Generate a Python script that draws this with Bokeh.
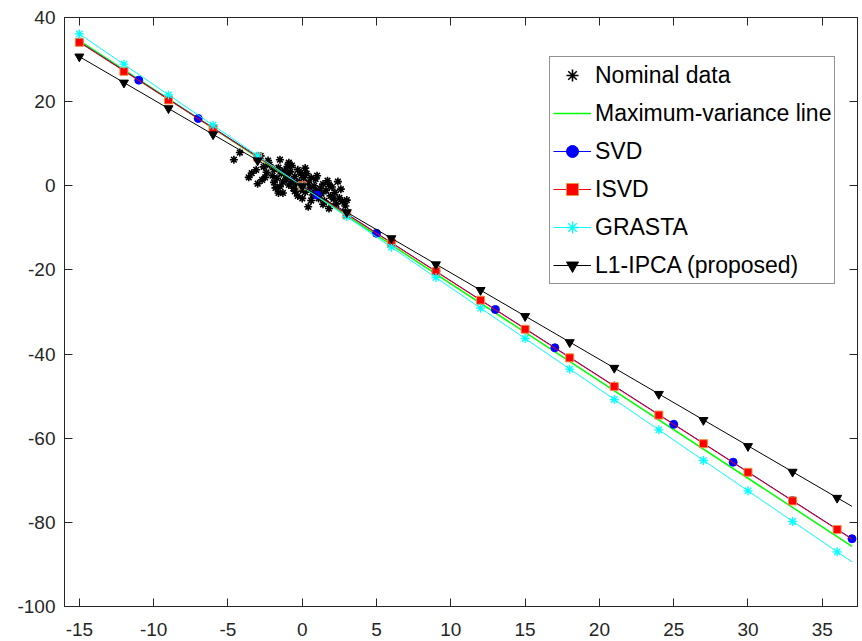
from bokeh.plotting import figure
from bokeh.models import LinearAxis, FixedTicker, Legend, LegendItem, Range1d
from bokeh.embed import file_html
from bokeh.resources import INLINE

# ---------------- data ----------------
x_ticks = [-15, -10, -5, 0, 5, 10, 15, 20, 25, 30, 35]
x_tick_labels = ["-15", "-10", "-5", "0", "5", "10", "15", "20", "25", "30", "35"]
y_ticks = [-100, -80, -60, -40, -20, 0, 20, 40]
y_tick_labels = ["-100", "-80", "-60", "-40", "-20", "0", "20", "40"]

nominal_x = [-4.6, -4.2, -2.8, -1.5, -0.7, -3.1, -3.0, -2.7, -1.3, -0.1, 0.1, 0.9, 1.4, 2.4,
             2.1, 2.3, 1.8, 0.4, -0.3, -1.6, -1.8, 2.9,
             -2.6, -2.4, -2.2, -2.0, -1.9, -1.7, -1.6, -1.4, -1.3, -1.2, -1.1, -1.0, -0.9,
             -0.8, -0.7, -0.6, -0.5, -0.4, -0.3, -0.2, -0.1, 0.0, 0.1, 0.2, 0.3, 0.4, 0.5,
             0.6, 0.7, 0.8, 0.9, 1.0, 1.1, 1.2, 1.3, 1.5, 1.6, 1.7, 1.9, 2.0, 2.2, 2.5, 2.7,
             3.0, -2.5, -2.3, -1.9, -1.5, -1.0, -0.5, 0.2, 0.6, 1.4, -3.4, -3.6, -0.9, 0.0,
             1.8, 2.6]
nominal_y = [6.2, 7.9, 7.1, 6.2, 4.8, 3.8, 0.5, 1.4, -1.7, 3.1, 1.9, 1.6, 0.4, 1.0,
             -3.1, -4.3, -5.4, -5.0, -2.4, -1.7, -0.5, -4.8,
             4.5, 3.2, 5.0, 2.4, 3.9, 1.8, 4.3, 2.9, 0.9, 3.6, 1.5, 2.6, 0.2,
             3.3, 1.1, -0.6, 2.2, 0.5, 3.8, 1.0, -0.9, 2.5, 0.3, -1.5, 2.9, 0.8, -0.4,
             1.9, -2.2, 0.0, -1.2, 2.4, -3.0, -0.6, -1.9, -3.6, -1.1, 1.2, -2.4, -0.3, -1.6,
             -2.9, -3.7, -3.4, 2.0, 6.0, 0.8, -0.2, 4.6, -1.3, 4.2, -3.5, -4.4, 3.0, 2.0,
             5.5, -3.0, 0.3, -0.8]

# Maximum-variance line
maxvar_x = [-15, 37]
maxvar_y = [34.5, -85.7]

# SVD
svd_line_x = [-15, 37]
svd_line_y = [34.2, -83.9]
svd_x = [-15, -11, -7, -3, 1, 5, 9, 13, 17, 21, 25, 29, 33, 37]
svd_y = [34.2, 25.1, 16.0, 6.9, -2.2, -11.3, -20.3, -29.4, -38.5, -47.6, -56.7, -65.7, -74.8, -83.9]

# ISVD
isvd_line_x = [-15, 37]
isvd_line_y = [34.1, -84.0]
isvd_x = [-15, -12, -9, -6, -3, 0, 3, 6, 9, 12, 15, 18, 21, 24, 27, 30, 33, 36]
isvd_y = [34.1, 27.2, 20.4, 13.6, 6.8, 0.0, -6.8, -13.6, -20.4, -27.2, -34.1, -40.9, -47.7,
          -54.5, -61.3, -68.1, -74.9, -81.7]

# GRASTA
grasta_line_x = [-15, 37]
grasta_line_y = [36.1, -89.4]
grasta_x = [-15, -12, -9, -6, -3, 0, 3, 6, 9, 12, 15, 18, 21, 24, 27, 30, 33, 36]
grasta_y = [36.1, 28.9, 21.6, 14.4, 7.1, -0.1, -7.3, -14.6, -21.8, -29.1, -36.3, -43.6, -50.8,
            -58.0, -65.3, -72.5, -79.8, -87.0]

# L1-IPCA (proposed)
l1_line_x = [-15, 37]
l1_line_y = [30.7, -76.2]
l1_x = [-15, -12, -9, -6, -3, 0, 3, 6, 9, 12, 15, 18, 21, 24, 27, 30, 33, 36]
l1_y = [30.7, 24.5, 18.4, 12.2, 6.0, -0.15, -6.3, -12.5, -18.7, -24.8, -31.0, -37.2, -43.3,
        -49.5, -55.7, -61.9, -68.0, -74.2]

# ---------------- figure ----------------
FONT = "Liberation Sans"
AX = "#262626"

p = figure(width=862, height=641, x_range=Range1d(-16, 37.37), y_range=Range1d(-100, 40),
           output_backend="svg", toolbar_location=None,
           min_border_left=64, min_border_right=5, min_border_top=17, min_border_bottom=35)
p.background_fill_color = "white"
p.border_fill_color = "white"
p.outline_line_color = AX
p.outline_line_width = 1
p.xgrid.visible = False
p.ygrid.visible = False

def style_axis(ax, ticks, labels, show_labels, standoff):
    ax.ticker = FixedTicker(ticks=ticks)
    ax.major_tick_in = 8
    ax.major_tick_out = 0
    ax.minor_tick_line_color = None
    ax.axis_line_color = AX
    ax.major_tick_line_color = AX
    ax.major_label_text_font = FONT
    ax.major_label_standoff = standoff
    if show_labels:
        ax.major_label_overrides = {t: l for t, l in zip(ticks, labels)}
        ax.major_label_text_color = AX
        ax.major_label_text_font_size = "19px"
    else:
        ax.major_label_text_color = None
        ax.major_label_text_font_size = "1px"
        ax.major_label_standoff = 0

style_axis(p.xaxis[0], x_ticks, x_tick_labels, True, 16)
style_axis(p.yaxis[0], y_ticks, y_tick_labels, True, 9)

top_ax = LinearAxis()
style_axis(top_ax, x_ticks, x_tick_labels, False, 0)
p.add_layout(top_ax, "above")
right_ax = LinearAxis()
style_axis(right_ax, y_ticks, y_tick_labels, False, 0)
p.add_layout(right_ax, "right")

# nominal data
r_nom = p.scatter(nominal_x, nominal_y, marker="asterisk", size=8, line_color="black",
                  line_width=1.6)

r_green = p.line(maxvar_x, maxvar_y, line_color="#00ff00", line_width=1.5)

r_svd_l = p.line(svd_line_x, svd_line_y, line_color="#0000ff", line_width=1)
r_svd_m = p.scatter(svd_x, svd_y, marker="circle", size=8, fill_color="#0000ff",
                    line_color="#0000ff")

r_isvd_l = p.line(isvd_line_x, isvd_line_y, line_color="#ff0000", line_width=1)
r_isvd_m = p.scatter(isvd_x, isvd_y, marker="square", size=8, fill_color="#ff0000",
                     line_color="#f09040", line_width=1)

r_gr_l = p.line(grasta_line_x, grasta_line_y, line_color="#00ffff", line_width=1)
r_gr_m = p.scatter(grasta_x, grasta_y, marker="asterisk", size=9, line_color="#00ffff",
                   line_width=1.3)

r_l1_l = p.line(l1_line_x, l1_line_y, line_color="black", line_width=1)
r_l1_m = p.scatter(l1_x, l1_y, marker="inverted_triangle", size=9, fill_color="black",
                   line_color="black")

legend = Legend(items=[
    LegendItem(label="Nominal data", renderers=[r_nom]),
    LegendItem(label="Maximum-variance line", renderers=[r_green]),
    LegendItem(label="SVD", renderers=[r_svd_l, r_svd_m]),
    LegendItem(label="ISVD", renderers=[r_isvd_l, r_isvd_m]),
    LegendItem(label="GRASTA", renderers=[r_gr_l, r_gr_m]),
    LegendItem(label="L1-IPCA (proposed)", renderers=[r_l1_l, r_l1_m]),
], location=(485, 322))
legend.label_text_font = FONT
legend.label_text_font_size = "23px"
legend.label_text_color = "black"
legend.glyph_width = 38
legend.glyph_height = 30
legend.label_height = 30
legend.label_standoff = 4
legend.spacing = 8
legend.padding = 3
legend.margin = 0
legend.border_line_color = AX
legend.border_line_width = 1
legend.background_fill_color = "white"
legend.background_fill_alpha = 1
p.add_layout(legend)

open("out.html", "w").write(file_html(p, INLINE))
